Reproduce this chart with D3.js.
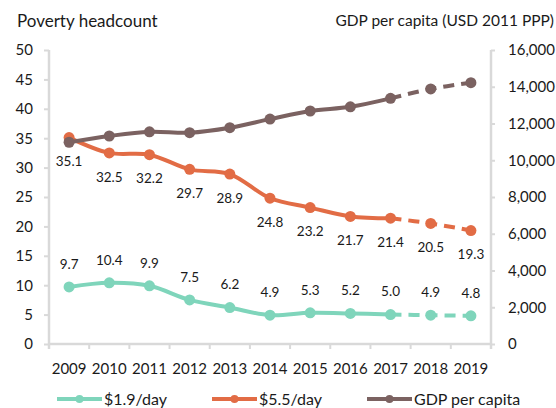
<!DOCTYPE html>
<html>
<head>
<meta charset="utf-8">
<script src="https://cdn.jsdelivr.net/npm/d3@7"></script>
<style>
  html, body { margin: 0; padding: 0; background: #fff; }
  svg { display: block; font-family: Lato, "Open Sans", sans-serif; }
</style>
</head>
<body>
<svg id="chart" width="556" height="408"></svg>
<script>
// Years on the category axis
const years = ["2009","2010","2011","2012","2013","2014","2015","2016","2017","2018","2019"];
// Poverty headcount rate (%), $1.9/day
const poverty19 = [9.7, 10.4, 9.9, 7.5, 6.2, 4.9, 5.3, 5.2, 5.0, 4.9, 4.8];
// Poverty headcount rate (%), $5.5/day
const poverty55 = [35.1, 32.5, 32.2, 29.7, 28.9, 24.8, 23.2, 21.7, 21.4, 20.5, 19.3];
// GDP per capita, USD 2011 PPP (right axis)
const gdp = [10980, 11320, 11550, 11500, 11770, 12240, 12680, 12910, 13370, 13880, 14220];
// Index of the last observed year; later years are projections (dashed)
const lastActual = 8;
// Axis ticks
const leftTicks = [0, 5, 10, 15, 20, 25, 30, 35, 40, 45, 50];
const rightTicks = [0, 2000, 4000, 6000, 8000, 10000, 12000, 14000, 16000];

const svg = d3.select("#chart");
const plot = { left: 49, right: 491, top: 50, bottom: 344 };

const x = d3.scaleBand().domain(years).range([plot.left, plot.right]).padding(0);
const cx = d => x(d) + x.bandwidth() / 2;
const yL = d3.scaleLinear().domain([0, 50]).range([plot.bottom, plot.top]);
const yR = d3.scaleLinear().domain([0, 16000]).range([plot.bottom, plot.top]);

const axisColor = "#d9d9d9";
const textColor = "#1a1a1a";

// Left axis
const gL = svg.append("g").attr("transform", `translate(${plot.left},0)`)
  .call(d3.axisLeft(yL).tickValues(leftTicks).tickSize(5).tickPadding(11).tickFormat(d3.format("d")));
// Right axis
const gR = svg.append("g").attr("transform", `translate(${plot.right},0)`)
  .call(d3.axisRight(yR).tickValues(rightTicks).tickSize(4).tickPadding(13).tickFormat(d3.format(",")));
// Bottom axis: labels at category centres
const gB = svg.append("g").attr("transform", `translate(0,${plot.bottom})`)
  .call(d3.axisBottom(x).tickSize(0).tickPadding(19));
// Tick marks on category boundaries
const bounds = years.map(d => x(d)).concat([x(years[years.length - 1]) + x.bandwidth()]);
gB.selectAll("line.bound").data(bounds).join("line")
  .attr("class", "bound")
  .attr("x1", d => d).attr("x2", d => d).attr("y1", 0).attr("y2", 5)
  .attr("stroke", axisColor).attr("stroke-width", 2);

[gL, gR, gB].forEach(g => {
  g.select(".domain").attr("stroke", axisColor).attr("stroke-width", 2.5);
  g.selectAll(".tick line").attr("stroke", axisColor).attr("stroke-width", 2);
  g.selectAll("text").attr("fill", textColor).style("font-family", "Lato, 'Open Sans', sans-serif");
});
gL.selectAll("text").style("font-size", "15px");
gR.selectAll("text").style("font-size", "15px");
gB.selectAll("text").style("font-size", "15px");
// Left and right domain paths without end caps
gL.select(".domain").attr("d", `M0,${plot.top}V${plot.bottom + 5}`);
gR.select(".domain").attr("d", `M0,${plot.top}V${plot.bottom + 5}`);
gB.select(".domain").attr("d", `M0,0H${plot.right - plot.left}`).attr("transform", `translate(${plot.left},0)`);

// Axis titles
svg.append("text").attr("x", 17).attr("y", 27)
  .attr("fill", textColor).style("font-size", "17px").text("Poverty headcount");
svg.append("text").attr("x", 554).attr("y", 26).attr("text-anchor", "end")
  .attr("fill", textColor).style("font-size", "15.5px").text("GDP per capita (USD 2011 PPP)");

const series = [
  { name: "$1.9/day", values: poverty19, y: yL, color: "#7fd5bb", labels: true, dy: -23, fmt: d3.format(".1f") },
  { name: "$5.5/day", values: poverty55, y: yL, color: "#e26c45", labels: true, dy: 24, fmt: d3.format(".1f") },
  { name: "GDP per capita", values: gdp, y: yR, color: "#7b6261", labels: false }
];

const curve = d3.curveCatmullRom.alpha(0.5);

series.forEach(s => {
  const pts = years.map((yr, i) => ({ x: cx(yr), y: s.y(s.values[i]), v: s.values[i] }));
  const line = d3.line().x(d => d.x).y(d => d.y).curve(curve);
  const g = svg.append("g");
  g.append("path").attr("d", line(pts.slice(0, lastActual + 1)))
    .attr("fill", "none").attr("stroke", s.color).attr("stroke-width", 4)
    .attr("stroke-linejoin", "round").attr("stroke-linecap", "round");
  g.append("path").attr("d", line(pts.slice(lastActual)))
    .attr("fill", "none").attr("stroke", s.color).attr("stroke-width", 4)
    .attr("stroke-dasharray", "11,7");
  g.selectAll("circle").data(pts).join("circle")
    .attr("cx", d => d.x).attr("cy", d => d.y).attr("r", 5.5).attr("fill", s.color);
  if (s.labels) {
    svg.append("g").selectAll("text").data(pts).join("text")
      .attr("x", d => d.x).attr("y", d => d.y + s.dy)
      .attr("dy", "0.35em").attr("text-anchor", "middle")
      .attr("fill", textColor).style("font-size", "13.5px")
      .text(d => s.fmt(d.v));
  }
});

// Legend
const legendX = [57, 212, 367];
const legend = svg.append("g").selectAll("g").data(series).join("g")
  .attr("transform", (d, i) => `translate(${legendX[i]},399)`);
legend.append("line").attr("x1", 0).attr("x2", 45).attr("y1", 0).attr("y2", 0)
  .attr("stroke", d => d.color).attr("stroke-width", 4);
legend.append("circle").attr("cx", 22.5).attr("cy", 0).attr("r", 4).attr("fill", d => d.color);
legend.append("text").attr("x", 47).attr("y", 0).attr("dy", "0.35em")
  .attr("fill", textColor).style("font-size", "16px").text(d => d.name);
</script>
</body>
</html>
